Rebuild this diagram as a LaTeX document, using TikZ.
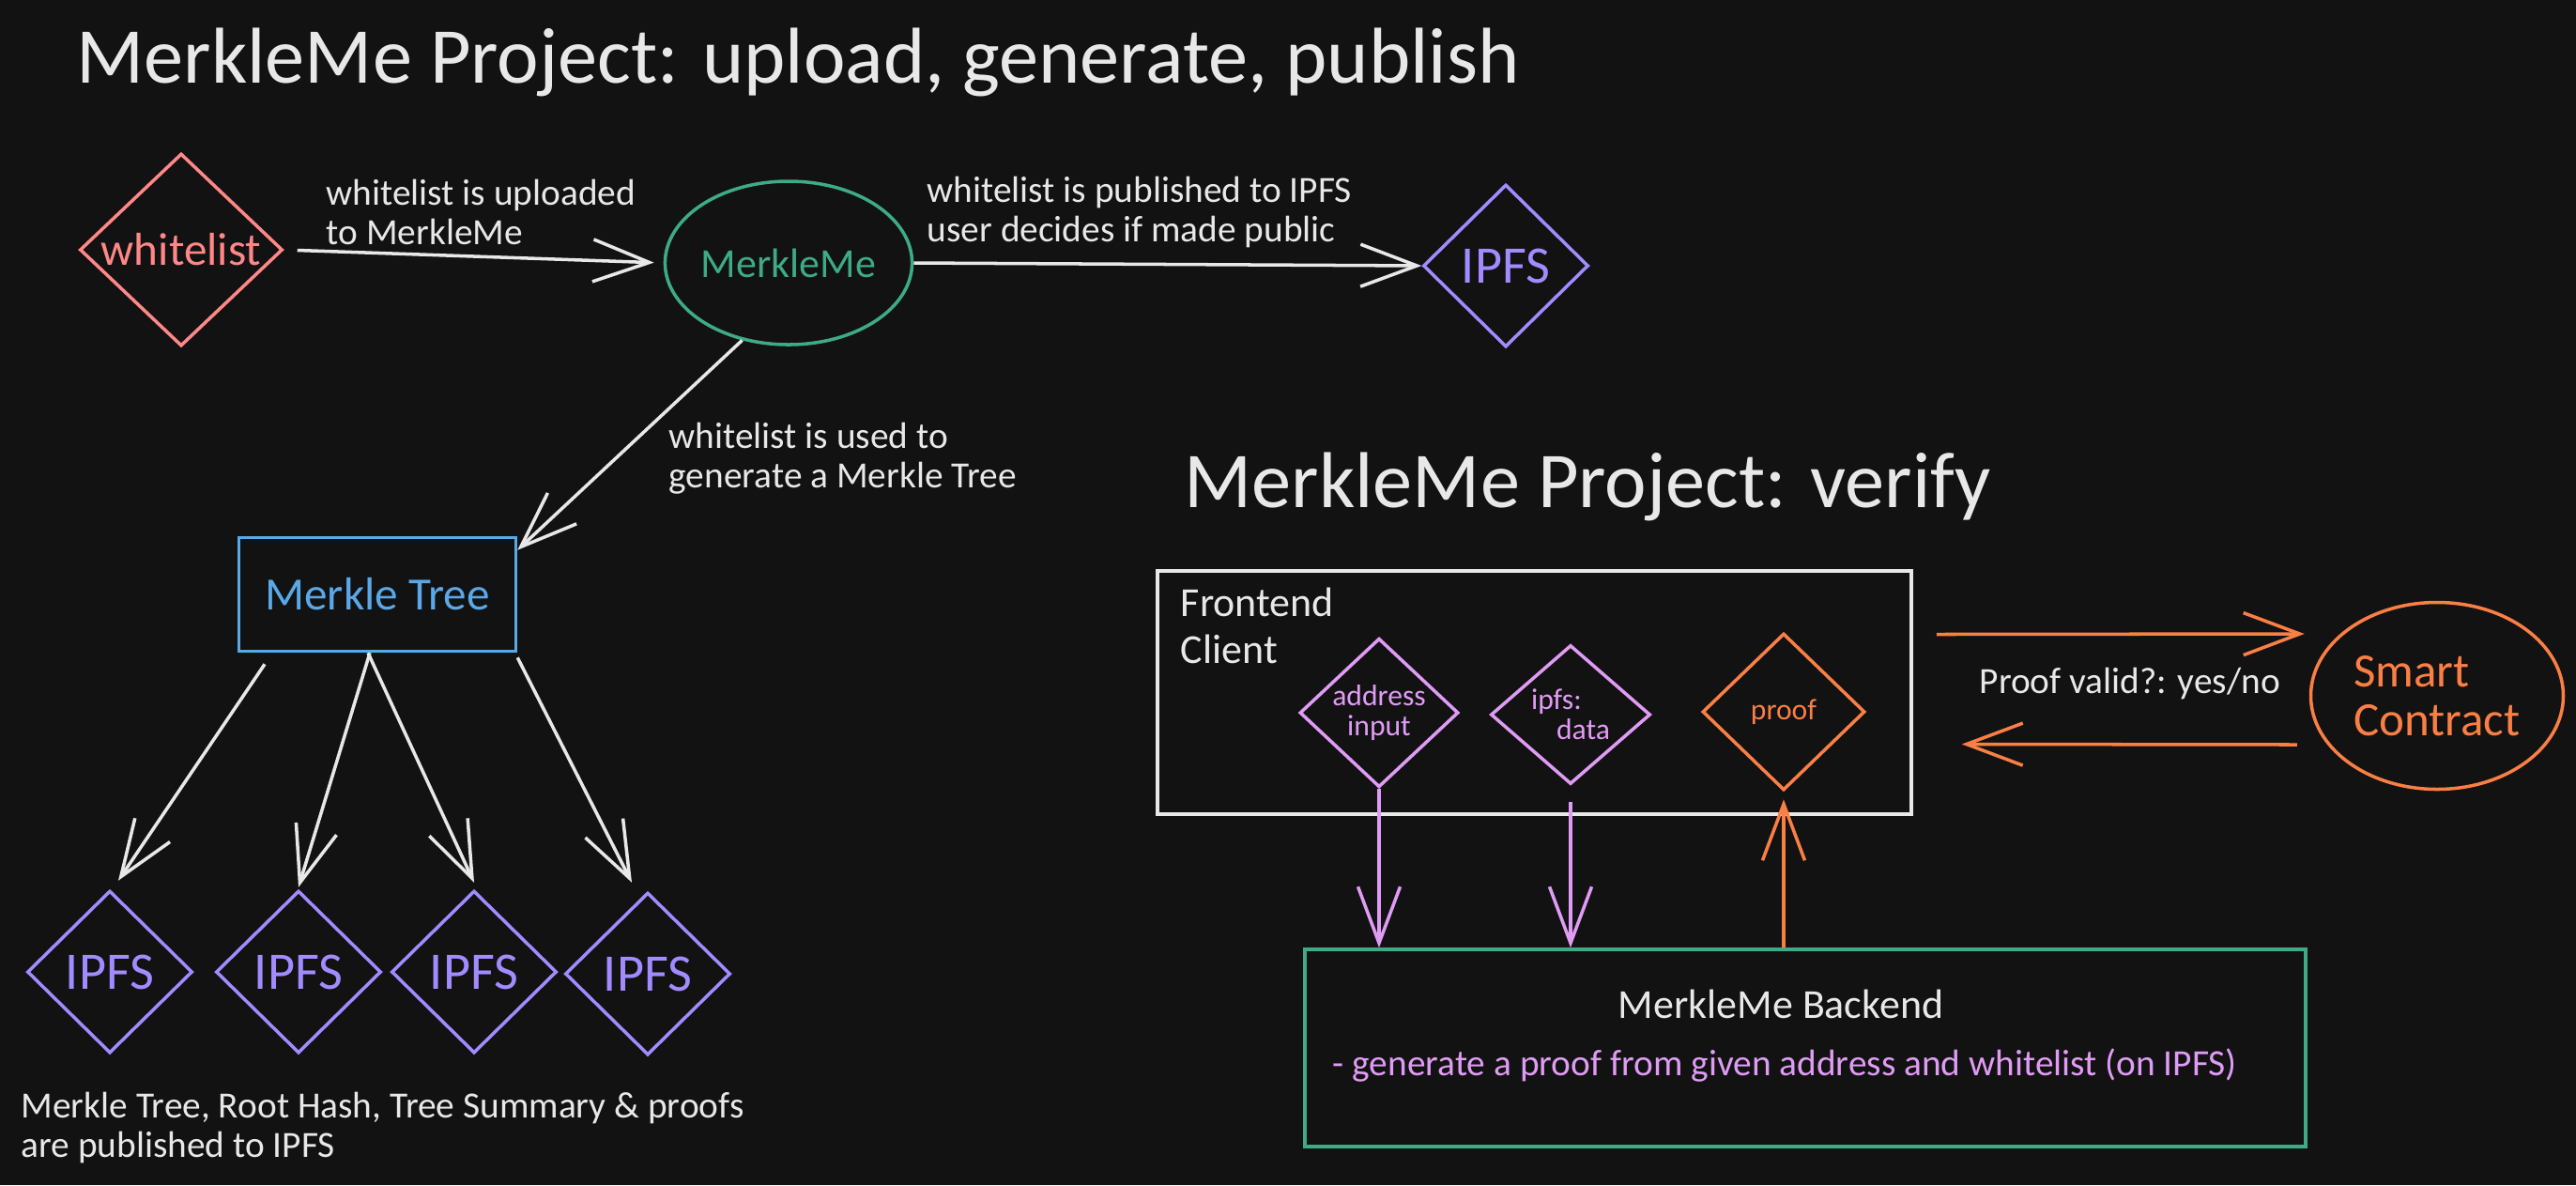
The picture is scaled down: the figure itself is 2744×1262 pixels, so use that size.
\documentclass[tikz,border=0pt]{standalone}
\usepackage{fontspec}
\setmainfont{Carlito}
\usetikzlibrary{shapes.geometric,arrows.meta}

\definecolor{paper}{HTML}{121212}
\definecolor{ink}{HTML}{E8E8E8}
\definecolor{salmon}{HTML}{FF8787}
\definecolor{mint}{HTML}{3DAB85}
\definecolor{lilac}{HTML}{A18BFF}
\definecolor{sky}{HTML}{5AA8E8}
\definecolor{tang}{HTML}{FA7F45}
\definecolor{orchid}{HTML}{E09CF5}

\newcommand{\titlefont}{\fontsize{24}{28}\selectfont}
\newcommand{\notefont}{\fontsize{11.2}{12}\selectfont}
\newcommand{\boxfont}{\fontsize{12.5}{14.2}\selectfont}
\newcommand{\bigboxfont}{\fontsize{14}{15}\selectfont}
\newcommand{\gemfont}{\fontsize{9}{9.1}\selectfont}

\tikzset{
	sketch/.style={line width=1pt},
	gem/.style={diamond, draw, sketch, inner sep=0pt, align=center},
	ipfs/.style={gem, draw=lilac, text=lilac, font=\fontsize{16}{16}\selectfont, minimum width=17.6mm, minimum height=17.3mm},
	conn/.style={sketch, -{Straight Barb[length=6mm,width=4.5mm]}},
	note/.style={text=ink, font=\notefont, align=left, anchor=west, inner sep=0pt},
	heading/.style={text=ink, font=\titlefont, anchor=base west, inner sep=0pt},
}

\begin{document}
\begin{tikzpicture}[x=0.1mm, y=-0.1mm]
	\fill[paper] (0,0) rectangle (2744,1262);
	\useasboundingbox (0,0) rectangle (2744,1262);

	% upload, generate, publish
	\node[heading] (title1) at (81,88) {MerkleMe Project: upload, generate, publish};
	\node[gem, draw=salmon, text=salmon, font=\bigboxfont, minimum width=21.6mm, minimum height=20.5mm] (wlist) at (193,266) {whitelist};
	\node[ellipse, draw=mint, text=mint, sketch, font=\boxfont, minimum width=19.5mm, minimum height=17.4mm, inner sep=0pt] (mm) at (840,280) {MerkleMe};
	\node[ipfs] (ipfs0) at (1604,283) {IPFS};
	\node[rectangle, draw=sky, text=sky, sketch, font=\bigboxfont, minimum width=29.5mm, minimum height=12.1mm] (tree) at (402,633) {Merkle Tree};
	\node[ipfs] (ipfs1) at (117,1035) {IPFS};
	\node[ipfs] (ipfs2) at (318,1035) {IPFS};
	\node[ipfs] (ipfs3) at (505,1035) {IPFS};
	\node[ipfs] (ipfs4) at (690,1037) {IPFS};

	\draw[conn, ink, shorten <=1.4mm, shorten >=1mm] (wlist.east) -- (mm.west);
	\draw[conn, ink] (mm.east) -- (ipfs0.west);
	\draw[conn, ink] (mm.239) -- ([yshift=-1.5mm]tree.north east);
	\node[note] (lbl1) at (347,226) {whitelist is uploaded\\to MerkleMe};
	\node[note] (lbl2) at (987,226) {whitelist is published to IPFS\\user decides if made public};
	\node[note] (lbl3) at (712,488) {whitelist is used to\\generate a Merkle Tree};

	\draw[conn, ink] ([xshift=-12mm,yshift=-1.2mm]tree.south) -- ([xshift=0.9mm,yshift=0.9mm]ipfs1.north);
	\draw[conn, ink] ([xshift=-0.8mm]tree.south) -- ([yshift=0.2mm]ipfs2.north);
	\draw[conn, ink] ([xshift=-1mm]tree.south) -- ([yshift=0.7mm]ipfs3.north);
	\draw[conn, ink] ([yshift=-0.5mm]tree.south east) -- ([xshift=-1.7mm,yshift=0.9mm]ipfs4.north);
	\node[note] (caption) at (22,1201) {Merkle Tree, Root Hash, Tree Summary \& proofs\\are published to IPFS};

	% verify
	\node[heading] (title2) at (1261,540) {MerkleMe Project: verify};
	\node[rectangle, draw=ink, sketch, minimum width=80.3mm, minimum height=25.9mm] (front) at (1634.5,737.5) {};
	\node[anchor=north west, text=ink, font=\boxfont, align=left, inner sep=0pt] (frontlbl) at ([xshift=2.6mm,yshift=-1.9mm]front.north west) {Frontend\\Client};
	\node[gem, draw=orchid, text=orchid, font=\gemfont, minimum width=16.9mm, minimum height=14.8mm] (addr) at (1469,759) {address\\input};
	\node[gem, draw=orchid, text=orchid, font=\gemfont, align=left, minimum width=17mm, minimum height=14.8mm] (data) at (1673,761) {ipfs:\\\hspace*{2.7mm}data};
	\node[gem, draw=tang, text=tang, font=\gemfont, minimum width=17.3mm, minimum height=16.7mm] (proof) at (1900,758) {proof};
	\node[ellipse, draw=tang, text=tang, sketch, font=\fontsize{14.5}{15}\selectfont, align=left, minimum width=26.9mm, minimum height=19.9mm, inner sep=0pt] (sc) at (2596,741) {Smart\\Contract};
	\node[rectangle, draw=mint, sketch, minimum width=106.6mm, minimum height=21mm] (back) at (1923,1116) {};
	\node[text=ink, font=\boxfont, inner sep=0pt] (backlbl) at (1897,1069) {MerkleMe Backend};
	\node[note, text=orchid] (backnote) at (1419,1134) {- generate a proof from given address and whitelist (on IPFS)};

	\draw[conn, tang] ([xshift=2.5mm,yshift=6.2mm]front.east) -- ([xshift=-0.5mm,yshift=6.6mm]sc.west);
	\draw[conn, tang] ([xshift=-1.3mm,yshift=-5.2mm]sc.west) -- ([xshift=5.2mm,yshift=-5.5mm]front.east);
	\node[note] (validlbl) at (2108,728) {Proof valid?: yes/no};

	\draw[conn, orchid] (addr.south) -- (addr.south |- back.north);
	\draw[conn, orchid, shorten <=1.7mm] (data.south) -- (data.south |- back.north);
	\draw[conn, tang, shorten >=0.8mm] (proof.south |- back.north) -- (proof.south);
\end{tikzpicture}
\end{document}
